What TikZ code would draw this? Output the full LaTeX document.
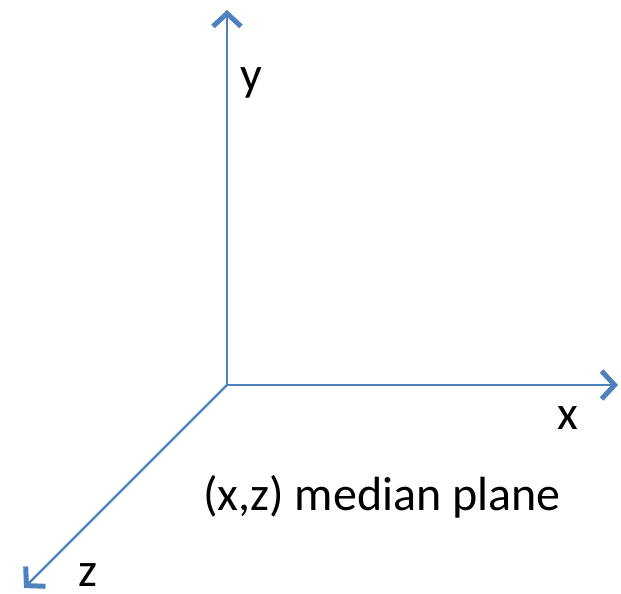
\documentclass[tikz,border=0pt]{standalone}
\usepackage{fontspec}
\setmainfont{Carlito}
\usetikzlibrary{arrows.meta}
\definecolor{axisblue}{RGB}{79, 129, 189}

\begin{document}
\begin{tikzpicture}[
    x=1pt, y=-1pt,
    font=\fontsize{48}{52}\selectfont,
    achse/.style={axisblue, line width=2.2pt,
                  -{Straight Barb[length=13pt, width=28pt, line width=5pt]}},
    beschr/.style={inner sep=0pt}
  ]
    \useasboundingbox (0,0) rectangle (621,594);
    % Ursprung und Achsenenden
    \coordinate (O) at (227,385);
    \coordinate (ey) at (227,10);
    \coordinate (ex) at (618,385);
    \coordinate (ez) at (24,588);
    \draw[achse] (O) -- (ey);
    \draw[achse] (O) -- (ex);
    \draw[achse] (O) -- (ez);
    \node[beschr] (ly) at (251,83) {y};
    \node[beschr] (lx) at (568,418) {x};
    \node[beschr] (lz) at (88,575) {z};
    \node[beschr] (ebene) at (382,497) {(x,z) median plane};
\end{tikzpicture}
\end{document}
